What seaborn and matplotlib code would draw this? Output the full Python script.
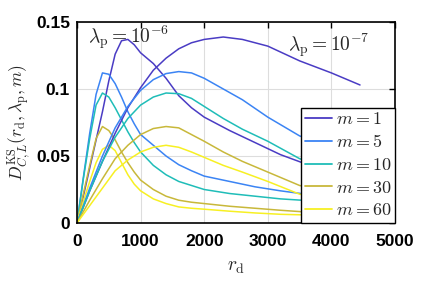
import numpy as np
import pandas as pd
import matplotlib
matplotlib.use("Agg")
import matplotlib.pyplot as plt
import seaborn as sns

# ---- data ----
m_values = [1, 5, 10, 30, 60]
colors = ["#4a3cc4", "#3b84f4", "#1fbdb8", "#c8b83a", "#f7f023"]

# lambda_p = 1e-6 family
x6 = [0, 100, 200, 300, 400, 500, 600, 700, 800, 900, 1000, 1200, 1400, 1600, 1800,
      2000, 2400, 2800, 3200, 3600, 4000, 4450]
y6_m1 = [0, 0.020, 0.041, 0.062, 0.083, 0.106, 0.126, 0.136, 0.137, 0.133, 0.127,
         0.119, 0.108, 0.095, 0.086, 0.079, 0.069, 0.060, 0.051, 0.044, 0.039, 0.035]
y6_m5 = [0, 0.034, 0.067, 0.096, 0.112, 0.111, 0.104, 0.094, 0.083, 0.074, 0.066,
         0.058, 0.050, 0.0435, 0.039, 0.035, 0.031, 0.027, 0.024, 0.0215, 0.020, 0.018]
y6_m10 = [0, 0.033, 0.063, 0.088, 0.097, 0.094, 0.086, 0.077, 0.068, 0.060, 0.053,
          0.043, 0.036, 0.031, 0.028, 0.025, 0.022, 0.020, 0.018, 0.0168, 0.0155, 0.014]
y6_m30 = [0, 0.022, 0.043, 0.063, 0.072, 0.069, 0.062, 0.053, 0.045, 0.038, 0.032,
          0.025, 0.020, 0.017, 0.0155, 0.0145, 0.0125, 0.011, 0.0095, 0.0082, 0.0075, 0.007]
y6_m60 = [0, 0.016, 0.031, 0.045, 0.055, 0.058, 0.054, 0.045, 0.036, 0.029, 0.024,
          0.018, 0.0145, 0.012, 0.011, 0.0103, 0.0088, 0.0075, 0.0065, 0.006, 0.0055, 0.005]

# lambda_p = 1e-7 family
x7 = [0, 200, 400, 600, 800, 1000, 1200, 1400, 1600, 1800, 2000, 2300, 2600, 3000,
      3500, 4000, 4450]
y7_m1 = [0, 0.024, 0.046, 0.067, 0.086, 0.101, 0.114, 0.123, 0.130, 0.1345, 0.137,
         0.1388, 0.137, 0.132, 0.121, 0.112, 0.103]
y7_m5 = [0, 0.026, 0.050, 0.071, 0.087, 0.099, 0.107, 0.1115, 0.113, 0.112, 0.108,
         0.100, 0.092, 0.079, 0.065, 0.056, 0.050]
y7_m10 = [0, 0.024, 0.046, 0.064, 0.078, 0.088, 0.094, 0.097, 0.0965, 0.093, 0.087,
          0.078, 0.070, 0.061, 0.048, 0.040, 0.035]
y7_m30 = [0, 0.017, 0.033, 0.048, 0.058, 0.066, 0.0705, 0.072, 0.071, 0.066, 0.061,
          0.053, 0.046, 0.038, 0.028, 0.023, 0.020]
y7_m60 = [0, 0.013, 0.026, 0.039, 0.047, 0.053, 0.0565, 0.058, 0.0565, 0.053, 0.049,
          0.043, 0.038, 0.031, 0.0215, 0.017, 0.015]

x_ticks = [0, 1000, 2000, 3000, 4000, 5000]
y_ticks = [0, 0.05, 0.1, 0.15]
y_tick_labels = ["0", "0.05", "0.1", "0.15"]

# ---- build long table ----
rows = []
fam6 = [y6_m1, y6_m5, y6_m10, y6_m30, y6_m60]
fam7 = [y7_m1, y7_m5, y7_m10, y7_m30, y7_m60]
for m, ys in zip(m_values, fam6):
    for i, (xv, yv) in enumerate(zip(x6, ys)):
        rows.append({"x": xv, "y": yv, "m": f"$m = {m}$", "lam": "1e-6", "o": i})
for m, ys in zip(m_values, fam7):
    for i, (xv, yv) in enumerate(zip(x7, ys)):
        rows.append({"x": xv, "y": yv, "m": f"$m = {m}$", "lam": "1e-7", "o": i})
df = pd.DataFrame(rows)

sns.set_theme(style="white")
plt.rcParams["mathtext.fontset"] = "cm"
plt.rcParams["font.family"] = ["Liberation Sans", "DejaVu Sans"]

fig = plt.figure(figsize=(4.36, 2.81), dpi=100)
ax = fig.add_axes([77/436, 1-223/281, (395-77)/436, (223-22)/281])

hue_order = [f"$m = {m}$" for m in m_values]
palette = dict(zip(hue_order, colors))
sns.lineplot(data=df[df.lam == "1e-6"], x="x", y="y", hue="m", hue_order=hue_order,
             palette=palette, sort=False, estimator=None, units="m", lw=1.1, ax=ax,
             legend=False)
sns.lineplot(data=df[df.lam == "1e-7"], x="x", y="y", hue="m", hue_order=hue_order,
             palette=palette, sort=False, estimator=None, units="m", lw=1.1, ax=ax)

ax.set_xlim(0, 5000)
ax.set_ylim(0, 0.15)
ax.set_xticks(x_ticks)
ax.set_xticklabels([str(v) for v in x_ticks], fontweight="bold", fontsize=12.5)
ax.set_yticks(y_ticks)
ax.set_yticklabels(y_tick_labels, fontweight="bold", fontsize=12.5)
ax.grid(True, color="#dddddd", lw=0.8)
ax.set_axisbelow(True)
ax.tick_params(direction="in", length=4, width=1, top=True, right=True, pad=5,
               colors="black")
ax.tick_params(axis="x", pad=8)
for s in ax.spines.values():
    s.set_color("black")
    s.set_linewidth(1.2)

ax.set_xlabel(r"$r_{\mathrm{d}}$", fontsize=14, labelpad=7)
ax.set_ylabel(r"$D^{\mathrm{KS}}_{C,L}(r_{\mathrm{d}},\lambda_{\mathrm{p}},m)$", fontsize=12.5,
              labelpad=2)

ax.text(0.035, 0.925, r"$\lambda_{\mathrm{p}}=10^{-6}$", transform=ax.transAxes,
        fontsize=14, va="center", ha="left")
ax.text(0.665, 0.885, r"$\lambda_{\mathrm{p}}=10^{-7}$", transform=ax.transAxes,
        fontsize=14, va="center", ha="left")

leg = ax.legend(loc="lower right", borderaxespad=0, fontsize=13, frameon=True,
                fancybox=False, handlelength=1.5, handletextpad=0.2,
                labelspacing=0.32, borderpad=0.2)
leg.get_frame().set_edgecolor("black")
leg.get_frame().set_linewidth(1.0)
leg.get_frame().set_alpha(1)
for line in leg.get_lines():
    line.set_linewidth(1.3)

fig.savefig("out.png", dpi=100)
